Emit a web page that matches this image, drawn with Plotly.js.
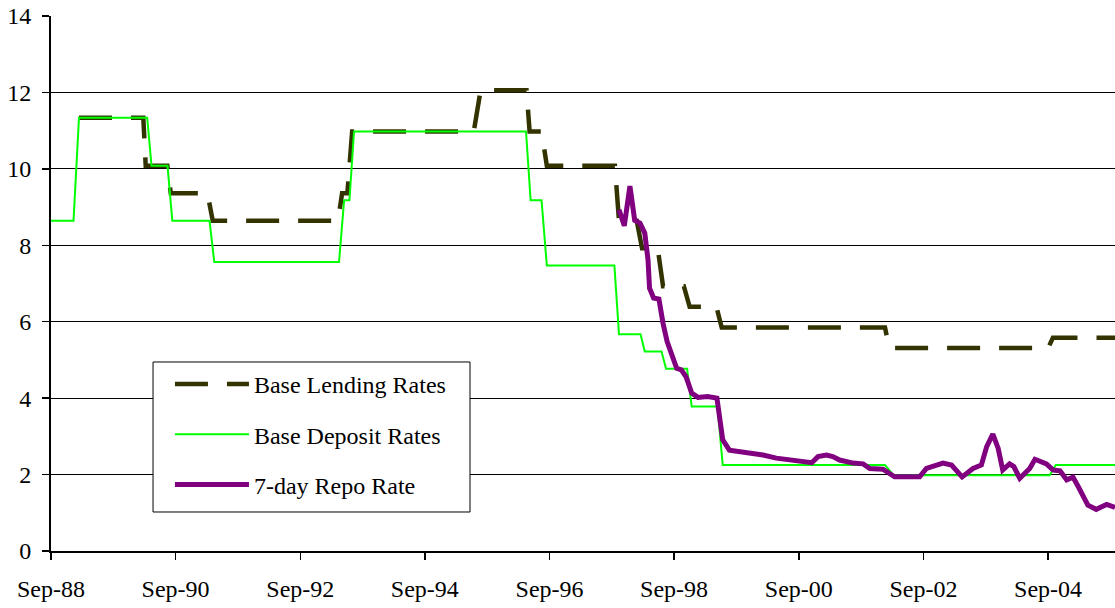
<!DOCTYPE html>
<html>
<head>
<meta charset="utf-8">
<script src="https://cdn.plot.ly/plotly-3.0.1.min.js"></script>
<style>html,body{margin:0;padding:0;background:#fff;}#chart{width:1115px;height:608px;}</style>
</head>
<body>
<div id="chart"></div>
<script>
// Base Lending Rates (vertices of the monthly series)
var lendingDates = ['1989-02-12','1990-02-24','1990-03-10','1990-07-15','1990-08-04','1991-03-07','1991-04-07',
  '1993-04-10','1993-05-04','1993-06-04','1993-07-02','1995-06-15','1995-07-25','1996-04-19','1996-05-07',
  '1996-07-16','1996-08-16','1997-09-19','1997-10-13','1998-01-25','1998-02-25','1998-05-28','1998-06-28',
  '1998-10-28','1998-12-01','1999-05-07','1999-06-07','2002-01-19','2002-02-13','2004-09-01','2004-09-29','2005-12-01'];
var lendingRates = [11.34,11.34,10.08,10.08,9.36,9.36,8.64,
  8.64,9.36,9.36,10.98,10.98,12.06,12.06,10.98,
  10.98,10.08,10.08,8.64,8.64,7.92,7.92,6.93,
  6.93,6.39,6.39,5.85,5.85,5.31,5.31,5.58,5.58];

// Base Deposit Rates
var depositDates = ['1988-09-01','1989-01-11','1989-02-12','1990-03-19','1990-04-13','1990-07-16','1990-08-13',
  '1991-03-19','1991-04-16','1993-04-16','1993-05-16','1993-06-16','1993-07-13','1996-04-16','1996-05-13',
  '1996-07-16','1996-08-16','1997-09-16','1997-10-13','1998-02-16','1998-03-13','1998-06-19','1998-07-16',
  '1998-11-16','1998-12-13','1999-05-13','1999-06-13','2002-01-19','2002-03-10','2004-09-10','2004-10-16','2005-12-01'];
var depositRates = [8.64,8.64,11.34,11.34,10.08,10.08,8.64,
  8.64,7.56,7.56,9.18,9.18,10.98,10.98,9.18,
  9.18,7.47,7.47,5.67,5.67,5.22,5.22,4.77,
  4.77,3.78,3.78,2.25,2.25,1.98,1.98,2.25,2.25];

// 7-day Repo Rate
var repoDates = ['1997-10-13','1997-11-13','1997-12-16','1998-01-13','1998-02-13','1998-03-13','1998-04-01',
  '1998-04-10','1998-05-04','1998-06-04','1998-06-28','1998-07-22','1998-09-16','1998-10-13','1998-11-10',
  '1998-12-13','1999-01-19','1999-03-16','1999-05-10','1999-05-25','1999-06-13','1999-07-22','1999-09-22',
  '1999-12-07','2000-02-04','2000-04-22','2000-07-28','2000-11-16','2000-12-22','2001-02-10','2001-03-19',
  '2001-04-28','2001-07-16','2001-09-13','2001-10-22','2002-01-07','2002-03-16','2002-08-10','2002-09-19',
  '2002-10-28','2002-12-25','2003-02-13','2003-04-16','2003-06-19','2003-08-07','2003-09-07','2003-10-13',
  '2003-11-13','2003-12-10','2004-01-19','2004-02-13','2004-03-19','2004-05-16','2004-06-16','2004-08-22',
  '2004-10-01','2004-11-10','2004-12-19','2005-01-25','2005-02-25','2005-04-22','2005-06-10','2005-08-10','2005-09-28'];
var repoRates = [8.93,8.51,9.55,8.65,8.58,8.32,7.62,
  6.88,6.62,6.59,5.96,5.48,4.78,4.74,4.56,
  4.13,4.02,4.04,4.00,3.52,2.91,2.64,2.60,
  2.56,2.51,2.43,2.36,2.31,2.47,2.51,2.47,
  2.38,2.30,2.28,2.16,2.14,1.94,1.94,2.16,
  2.23,2.30,2.25,1.94,2.16,2.25,2.73,3.06,
  2.69,2.12,2.28,2.21,1.90,2.16,2.40,2.28,
  2.12,2.10,1.86,1.93,1.68,1.20,1.09,1.22,1.14];

var tickDates = ['1988-09-01','1990-09-01','1992-09-01','1994-09-01','1996-09-01','1998-09-01','2000-09-01','2002-09-01','2004-09-01'];
var tickLabels = ['Sep-88','Sep-90','Sep-92','Sep-94','Sep-96','Sep-98','Sep-00','Sep-02','Sep-04'];
var seriesNames = ['Base Lending Rates','Base Deposit Rates','7-day Repo Rate'];

var font = '"Liberation Serif", "Times New Roman", serif';
var fs = 24;

var traces = [
  {x: lendingDates, y: lendingRates, name: seriesNames[0], legendgroup: 'a', type: 'scatter', mode: 'lines',
   line: {color: '#333300', width: 4.5, dash: '33px,19px'}},
  {x: depositDates, y: depositRates, name: seriesNames[1], legendgroup: 'b', type: 'scatter', mode: 'lines',
   line: {color: '#00ff00', width: 2}},
  {x: repoDates, y: repoRates, name: seriesNames[2], legendgroup: 'c', type: 'scatter', mode: 'lines',
   line: {color: '#800080', width: 5}}
];

var layout = {
  width: 1115, height: 608,
  margin: {l: 51, r: 0, t: 16, b: 57},
  paper_bgcolor: '#fff', plot_bgcolor: '#fff',
  font: {family: font, size: fs, color: '#000'},
  showlegend: true,
  legend: {x: 0.1118, y: 0.3533, xanchor: 'left', yanchor: 'top', bgcolor: 'rgba(0,0,0,0)',
    borderwidth: 0, font: {family: font, size: fs, color: '#000'},
    itemwidth: 74, tracegroupgap: 16, traceorder: 'grouped'},
  shapes: [{type: 'rect', xref: 'paper', yref: 'paper', x0: 0.0959, x1: 0.3938, y0: 0.0729, y1: 0.3533,
    fillcolor: '#fff', line: {color: '#000', width: 1}, layer: 'above'}],
  xaxis: {type: 'date', range: ['1988-09-01', '2005-09-28'], tickmode: 'array',
    tickvals: tickDates, ticktext: tickLabels, ticks: 'outside', ticklen: 7, tickwidth: 1.5,
    tickcolor: '#000', showgrid: false, showline: true, linecolor: '#000', linewidth: 2,
    zeroline: false, ticklabelstandoff: 8, tickfont: {family: font, size: fs, color: '#000'}},
  yaxis: {range: [0, 14], dtick: 2, tick0: 0, ticks: 'outside', ticklen: 7, tickwidth: 1.5,
    tickcolor: '#000', showgrid: true, gridcolor: '#000', gridwidth: 1, showline: true,
    linecolor: '#000', linewidth: 2, zeroline: false, ticklabelstandoff: 6,
    tickfont: {family: font, size: fs, color: '#000'}}
};

Plotly.newPlot('chart', traces, layout, {displayModeBar: false, staticPlot: true});
</script>
</body>
</html>
